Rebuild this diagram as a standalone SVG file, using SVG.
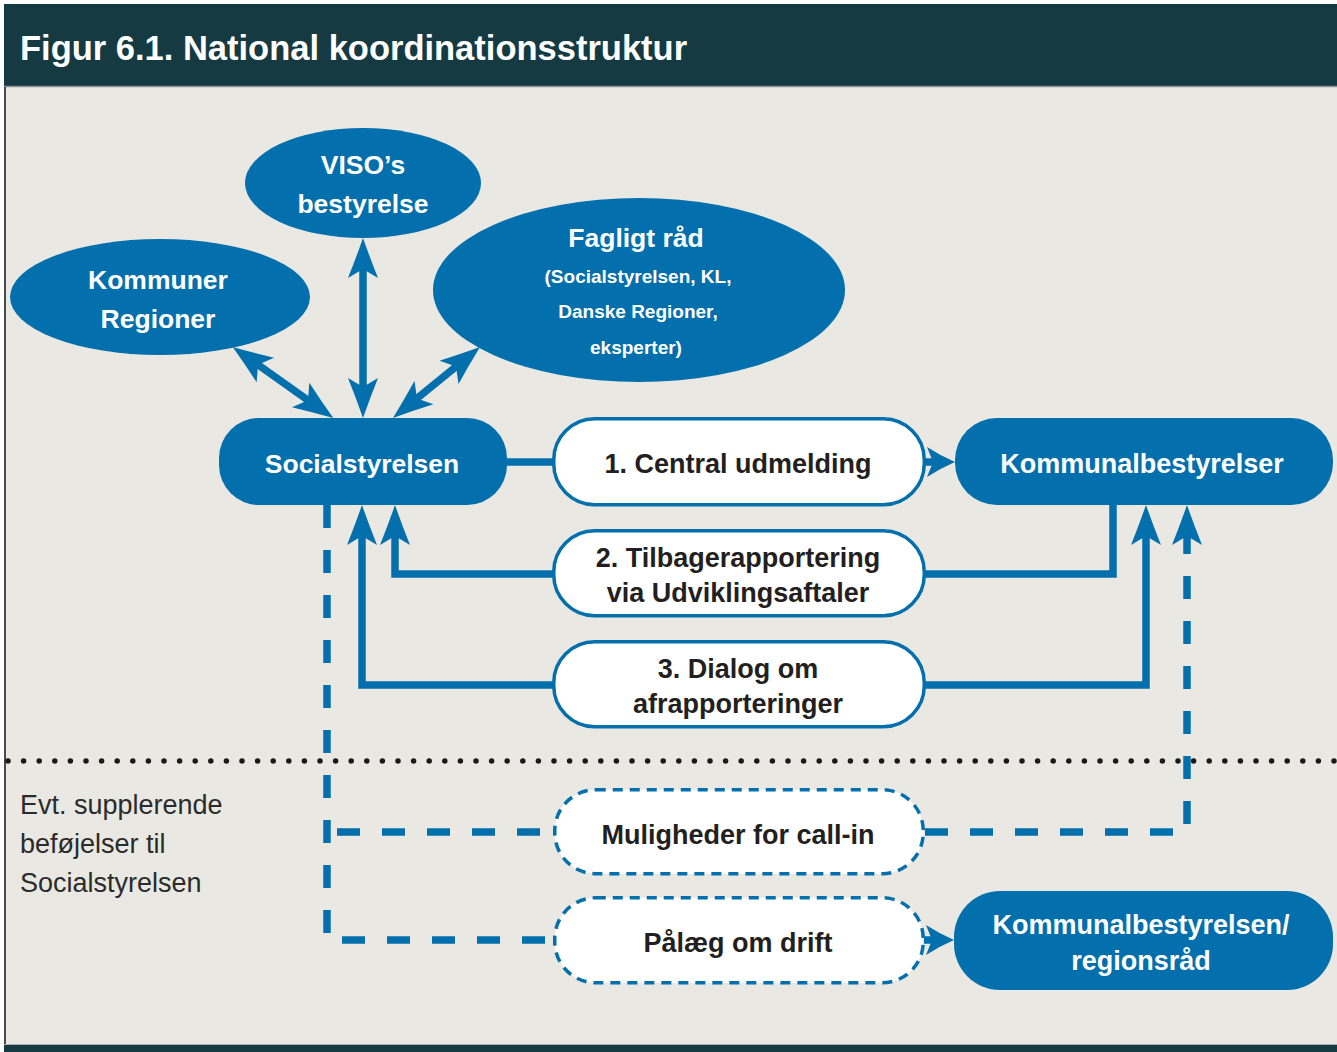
<svg xmlns="http://www.w3.org/2000/svg" width="1337" height="1052" viewBox="0 0 1337 1052">
<style>
.blue{fill:#036fac}
.wbox{fill:#ffffff;stroke:#036fac;stroke-width:3.5}
.dbox{fill:#ffffff;stroke:#036fac;stroke-width:3.5;stroke-dasharray:10 7}
.tw{font-family:"Liberation Sans",Arial,sans-serif;font-weight:bold;fill:#ffffff;text-anchor:middle}
.tb{font-family:"Liberation Sans",Arial,sans-serif;font-weight:bold;fill:#231f20;text-anchor:middle;font-size:27px}
.ln{fill:none;stroke:#036fac;stroke-width:7.5}
.dl{fill:none;stroke:#036fac;stroke-width:7.5;stroke-dasharray:23 22}
.note{font-family:"Liberation Sans",Arial,sans-serif;font-size:27px;fill:#2b2b2b}
</style>
<defs>
<marker id="ah" markerUnits="userSpaceOnUse" viewBox="-2 -20 46 40" markerWidth="46" markerHeight="40" refX="9" refY="0" orient="auto-start-reverse" overflow="visible">
<path d="M0,-15 Q20,-7 40,0 Q20,7 0,15 L9,0 Z" fill="#036fac"/>
</marker>
<marker id="sh" markerUnits="userSpaceOnUse" viewBox="-2 -20 34 40" markerWidth="34" markerHeight="40" refX="6" refY="0" orient="auto" overflow="visible">
<path d="M0,-15 Q14,-6 28,0 Q14,6 0,15 L6,0 Z" fill="#036fac"/>
</marker>
</defs>
<rect x="0" y="0" width="1337" height="1052" fill="#ffffff"/>
<rect x="4" y="4" width="1333" height="82" fill="#153a42"/>
<rect x="4" y="86" width="1333" height="959" fill="#e9e8e2"/>
<line x1="4" y1="86.5" x2="1337" y2="86.5" stroke="#8a9296" stroke-width="1.5"/>
<line x1="5" y1="87" x2="5" y2="1045" stroke="#4a4a4a" stroke-width="2"/>
<rect x="4" y="1045" width="1333" height="7" fill="#153a42"/>
<line x1="4" y1="1044.5" x2="1337" y2="1044.5" stroke="#b0b0b0" stroke-width="1"/>
<text x="20" y="60" font-family="'Liberation Sans',Arial,sans-serif" font-weight="bold" font-size="34.5" fill="#ffffff">Figur 6.1. National koordinationsstruktur</text>
<line x1="8" y1="761" x2="1337" y2="761" stroke="#1a1a1a" stroke-width="5.5" stroke-linecap="round" stroke-dasharray="0 15.6"/>
<g id="connectors">
<line class="ln" x1="363" y1="269" x2="363" y2="387" marker-start="url(#ah)" marker-end="url(#ah)"/>
<line class="ln" x1="258" y1="364.8" x2="308" y2="400.2" marker-start="url(#ah)" marker-end="url(#ah)"/>
<line class="ln" x1="456" y1="366.6" x2="417" y2="398.4" marker-start="url(#ah)" marker-end="url(#ah)"/>
<line class="ln" x1="505" y1="462" x2="554" y2="462"/>
<line class="ln" x1="924" y1="462" x2="933" y2="462" marker-end="url(#sh)"/>
<polyline class="ln" points="1113,503 1113,574 924,574"/>
<polyline class="ln" points="554,574 395,574 395,536" marker-end="url(#ah)"/>
<polyline class="ln" points="924,685 1146,685 1146,536" marker-end="url(#ah)"/>
<polyline class="ln" points="554,685 362,685 362,536" marker-end="url(#ah)"/>
<polyline class="dl" points="925,832 1187,832 1187,536" marker-end="url(#ah)"/>
<polyline class="dl" points="327,505 327,940 553,940"/>
<line class="dl" x1="327" y1="832" x2="553" y2="832" stroke-dashoffset="-10"/>
<line class="ln" x1="924" y1="940" x2="932" y2="940" marker-end="url(#sh)"/>
</g>
<g id="viso">
<ellipse class="blue" cx="363" cy="183" rx="118" ry="55"/>
<text class="tw" font-size="26.5" x="363" y="174">VISO’s</text>
<text class="tw" font-size="26.5" x="363" y="213">bestyrelse</text>
</g>
<g id="kommuner-regioner">
<ellipse class="blue" cx="160" cy="297" rx="150" ry="58"/>
<text class="tw" font-size="26.5" x="158" y="289">Kommuner</text>
<text class="tw" font-size="26.5" x="158" y="328">Regioner</text>
</g>
<g id="fagligt-raad">
<ellipse class="blue" cx="639" cy="290" rx="206" ry="92"/>
<text class="tw" font-size="26.5" x="636" y="247">Fagligt råd</text>
<text class="tw" font-size="19" x="638" y="283">(Socialstyrelsen, KL,</text>
<text class="tw" font-size="19" x="638" y="318">Danske Regioner,</text>
<text class="tw" font-size="19" x="636" y="354">eksperter)</text>
</g>
<g id="socialstyrelsen">
<rect class="blue" x="219" y="418" width="288" height="87" rx="40"/>
<text class="tw" font-size="26.5" x="362" y="473">Socialstyrelsen</text>
</g>
<g id="central-udmelding">
<rect class="wbox" x="553.75" y="418.75" width="370.5" height="86" rx="41"/>
<text class="tb" x="738" y="473">1. Central udmelding</text>
</g>
<g id="kommunalbestyrelser">
<rect class="blue" x="955" y="418" width="378" height="87" rx="42"/>
<text class="tw" font-size="27" x="1142" y="473">Kommunalbestyrelser</text>
</g>
<g id="tilbagerapportering">
<rect class="wbox" x="553.75" y="530.75" width="370.5" height="85" rx="41"/>
<text class="tb" x="738" y="567">2. Tilbagerapportering</text>
<text class="tb" x="738" y="602">via Udviklingsaftaler</text>
</g>
<g id="dialog">
<rect class="wbox" x="553.75" y="641.75" width="370.5" height="85" rx="41"/>
<text class="tb" x="738" y="678">3. Dialog om</text>
<text class="tb" x="738" y="713">afrapporteringer</text>
</g>
<g id="call-in">
<rect class="dbox" x="554.75" y="789.75" width="368.5" height="84" rx="41"/>
<text class="tb" x="738" y="844">Muligheder for call-in</text>
</g>
<g id="paalaeg">
<rect class="dbox" x="554.75" y="897.75" width="368.5" height="85" rx="41"/>
<text class="tb" x="738" y="952">Pålæg om drift</text>
</g>
<g id="kommunalbestyrelsen-regionsraad">
<rect class="blue" x="954" y="891" width="379" height="99" rx="46"/>
<text class="tw" font-size="27" x="1141" y="934">Kommunalbestyrelsen/</text>
<text class="tw" font-size="27" x="1141" y="970">regionsråd</text>
</g>
<g id="note">
<text class="note" x="20" y="814">Evt. supplerende</text>
<text class="note" x="20" y="853">beføjelser til</text>
<text class="note" x="20" y="892">Socialstyrelsen</text>
</g>
</svg>
